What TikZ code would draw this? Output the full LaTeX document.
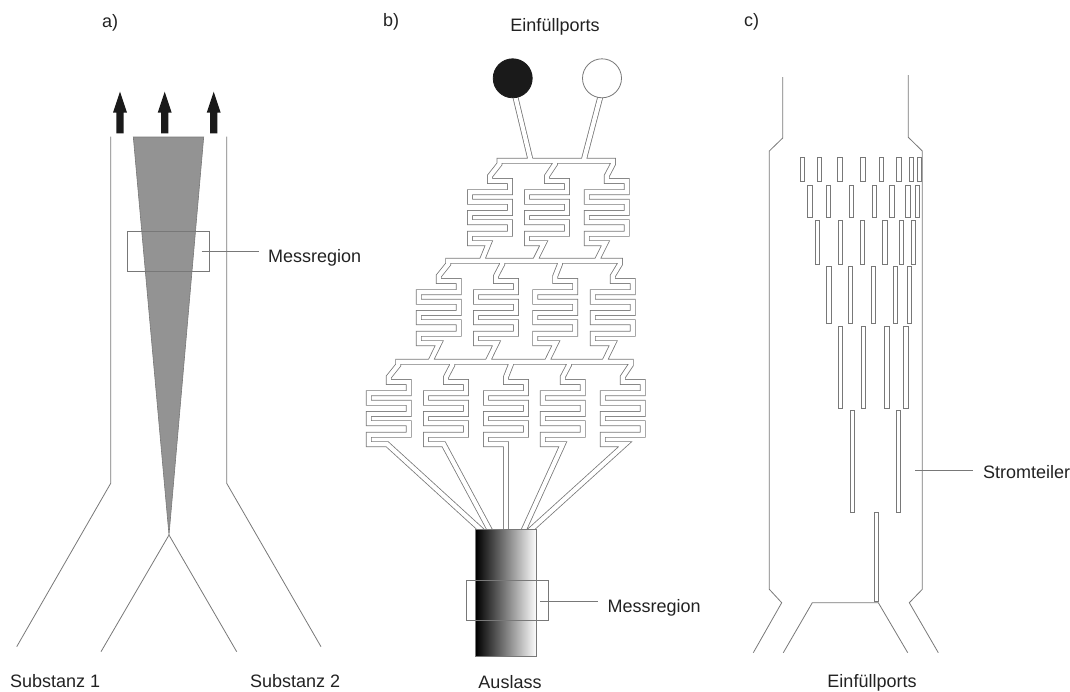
\documentclass[tikz,border=0pt]{standalone}
\usepackage{fontspec}
\setmainfont{Liberation Sans}
\definecolor{ink}{HTML}{222222}
\definecolor{wall}{HTML}{787878}
\definecolor{wedge}{HTML}{939393}
\definecolor{arrowk}{HTML}{1A1A1A}
% x0, y of manifold, x on manifold, x of last corner, exit point
\newcommand{\meander}[5]{(#3,#2) -- (#3,{#2+3.3}) -- ({#1+20},{#2+15.3}) -- ({#1+20},{#2+20.3})
 -- ({#1+40},{#2+20.3}) -- ({#1+40},{#2+31.6}) -- (#1,{#2+31.6}) -- (#1,{#2+41})
 -- ({#1+40},{#2+41}) -- ({#1+40},{#2+52.3}) -- (#1,{#2+52.3}) -- (#1,{#2+61.6})
 -- ({#1+40},{#2+61.6}) -- ({#1+40},{#2+73}) -- (#1,{#2+73}) -- (#1,{#2+82.6})
 -- (#4,{#2+82.6}) -- #5}
\tikzset{
  wallline/.style={draw=wall,line width=0.8pt,line join=miter},
  channel/.style={draw=wall,line width=0.8pt,double=white,double distance=4.2pt,line join=miter,miter limit=20},
  slot/.style={draw=wall,line width=0.8pt,fill=white},
  label/.style={text=ink,font=\fontsize{18}{20}\selectfont,inner sep=0pt},
  upflow/.style={fill=arrowk,draw=none},
  port/.style={circle,minimum size=39pt,inner sep=0pt,draw=wall,line width=0.8pt},
}
\begin{document}
\begin{tikzpicture}[x=1pt,y=-1pt]
\useasboundingbox (0,0) rectangle (1070,691);
% ---------- a)
\node[label,anchor=west] (la) at (102,23) {a)};
\foreach \ax in {120,164.7,213.7}{
  \fill[upflow] (\ax,91.7) -- ({\ax+7},112.7) -- ({\ax+3.7},112.7) -- ({\ax+3.7},133.3)
    -- ({\ax-3.7},133.3) -- ({\ax-3.7},112.7) -- ({\ax-7},112.7) -- cycle;
}
\coordinate (tip) at (169,535);
\path[fill=wedge,draw=wall,line width=0.6pt] (133.3,137) -- (203.7,137) -- (tip) -- cycle;
\draw[wallline] (110.7,136.7) -- (110.7,483.3) -- (16.7,646.7);
\draw[wallline] (226.7,136.7) -- (226.7,483.3) -- (321,646.7);
\draw[wallline] (101,651.7) -- (tip) -- (236.7,651.7);
\node[draw=wall,line width=0.7pt,minimum width=82.4pt,minimum height=40pt,inner sep=0pt] (boxA) at (168.5,251.3) {};
\coordinate (leadA1) at (201.7,251.7);
\coordinate (leadA2) at (258.7,251.7);
\draw[wallline] (leadA1) -- (leadA2);
\node[label,anchor=west] (messA) at (268,258) {Messregion};
\node[label,anchor=west] (sub1) at (10,681.5) {Substanz 1};
\node[label,anchor=west] (sub2) at (250,681.5) {Substanz 2};
% ---------- b)
\node[label,anchor=west] (lb) at (383,22) {b)};
\node[label] (ein1) at (555,27) {Einfüllports};
\coordinate (stemA) at (514.2,92);
\coordinate (stemB) at (601.6,92);
\draw[channel]
  (stemA) -- (530.7,160.7)
  (stemB) -- (583.6,160.7)
  % first row
  (613,160.7) -- \meander{470}{160.7}{499.5}{488.8}{(481.7,260.7)}
  \meander{527}{160.7}{555}{543.7}{(535,260.7)}
  (499.5,160.7) -- \meander{586.7}{160.7}{613}{605.4}{(596.7,260.7)}
  % second row
  (620,260.7) -- \meander{418.7}{260.7}{448.3}{439.2}{(430.2,361.7)}
  \meander{476}{260.7}{502.3}{496.5}{(487.5,361.7)}
  \meander{535.3}{260.7}{560}{555.8}{(546.8,361.7)}
  (448.3,260.7) -- \meander{592.7}{260.7}{620}{613.2}{(604.2,361.7)}
  % third row
  (630.7,361.7) -- \meander{368.7}{361.7}{398.3}{387.3}{(482.3,531)}
  \meander{426}{361.7}{452.3}{443.7}{(490.3,531)}
  \meander{486}{361.7}{510.7}{506}{(506,531)}
  \meander{542.7}{361.7}{569}{562.8}{(523.3,531)}
  (398.3,361.7) -- \meander{602.7}{361.7}{630.7}{625}{(529.3,531)};
\node[port,fill=arrowk,draw=arrowk] (portA) at (512.7,78.3) {};
\node[port,fill=white] (portB) at (602,78.3) {};
\shade[left color=black,right color=white,draw=wall,line width=0.8pt] (475.7,529.3) rectangle (536.7,656);
\node[draw=wall,line width=0.7pt,minimum width=82pt,minimum height=40pt,inner sep=0pt] (boxB) at (507.3,600.7) {};
\coordinate (leadB1) at (540,601);
\coordinate (leadB2) at (597.7,601);
\draw[wallline] (leadB1) -- (leadB2);
\node[label,anchor=west] (messB) at (607.3,607.5) {Messregion};
\node[label] (aus) at (510,682) {Auslass};
% ---------- c)
\node[label,anchor=west] (lc) at (744,22) {c)};
\draw[wallline] (782.7,77) -- (782.7,138) -- (769.3,151) -- (769.3,589.3) -- (781.7,602.7) -- (753.3,652.7);
\draw[wallline] (908.3,75) -- (908.3,137.3) -- (922.3,151) -- (922.3,589.3) -- (909.3,602.7) -- (938.3,652.7);
\draw[wallline] (783.3,652.7) -- (812.3,602.7) -- (878.3,602.7) -- (907.7,652.7);
\foreach \sx in {800.3,817.3,837.7,860.7,879.3,896.7,908.9,917}{
  \path[slot] (\sx,157.3) rectangle ({\sx+4.2},181.7);}
\foreach \sx in {807.7,826.3,849.3,872.3,889.7,905.7,915.3}{
  \path[slot] (\sx,185.3) rectangle ({\sx+4.2},217.3);}
\foreach \sx in {815.3,838.3,860,882.7,899,911}{
  \path[slot] (\sx,220.3) rectangle ({\sx+4.2},264.7);}
\foreach \sx in {826.7,848.3,871.3,893.3,907.3}{
  \path[slot] (\sx,266.7) rectangle ({\sx+4.2},323.3);}
\foreach \sx in {838.3,861.3,884.7,903.7}{
  \path[slot] (\sx,326) rectangle ({\sx+4.2},408);}
\foreach \sx in {849.9,896.4}{
  \path[slot] (\sx,410) rectangle ({\sx+4.2},512.7);}
\path[slot] (874.3,512.7) rectangle (878.3,601.7);
\coordinate (leadC1) at (915,470);
\coordinate (leadC2) at (973,470);
\draw[wallline] (leadC1) -- (leadC2);
\node[label,anchor=west] (strom) at (983,472) {Stromteiler};
\node[label] (ein2) at (872,682.5) {Einfüllports};
\end{tikzpicture}
\end{document}
